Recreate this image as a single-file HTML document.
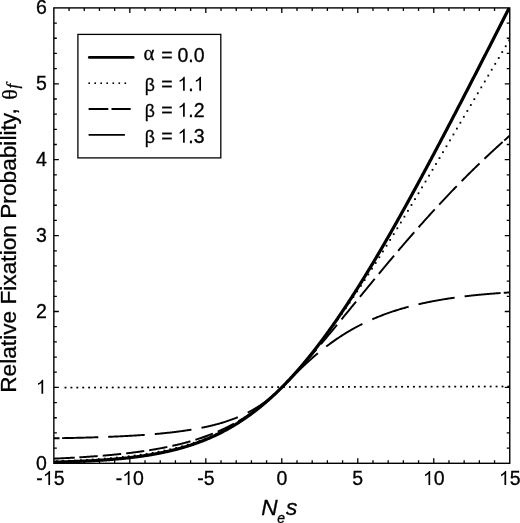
<!DOCTYPE html>
<html><head><meta charset="utf-8"><style>
html,body{margin:0;padding:0;background:#fff;}
body{width:520px;height:523px;position:relative;overflow:hidden;font-family:"Liberation Sans",sans-serif;}
svg{position:absolute;left:0;top:0;display:block;will-change:transform;}
text{-webkit-font-smoothing:antialiased;}
</style></head><body>
<svg width="520" height="523" viewBox="0 0 520 523">
<defs><clipPath id="c"><rect x="53.85" y="7.9" width="455.9" height="455.4"/></clipPath></defs>
<g clip-path="url(#c)" fill="none" stroke="#000">
<g fill="#000" stroke="none"><rect x="64.55" y="386.75" width="1.9" height="1.7"/><rect x="70.45" y="386.74" width="1.9" height="1.7"/><rect x="76.36" y="386.72" width="1.9" height="1.7"/><rect x="82.27" y="386.71" width="1.9" height="1.7"/><rect x="88.17" y="386.69" width="1.9" height="1.7"/><rect x="94.08" y="386.68" width="1.9" height="1.7"/><rect x="99.98" y="386.66" width="1.9" height="1.7"/><rect x="105.89" y="386.65" width="1.9" height="1.7"/><rect x="111.79" y="386.63" width="1.9" height="1.7"/><rect x="117.7" y="386.62" width="1.9" height="1.7"/><rect x="123.6" y="386.6" width="1.9" height="1.7"/><rect x="129.5" y="386.59" width="1.9" height="1.7"/><rect x="135.41" y="386.57" width="1.9" height="1.7"/><rect x="141.31" y="386.56" width="1.9" height="1.7"/><rect x="147.22" y="386.54" width="1.9" height="1.7"/><rect x="153.12" y="386.53" width="1.9" height="1.7"/><rect x="159.03" y="386.51" width="1.9" height="1.7"/><rect x="164.94" y="386.5" width="1.9" height="1.7"/><rect x="170.84" y="386.48" width="1.9" height="1.7"/><rect x="176.75" y="386.47" width="1.9" height="1.7"/><rect x="182.65" y="386.45" width="1.9" height="1.7"/><rect x="188.56" y="386.44" width="1.9" height="1.7"/><rect x="194.46" y="386.42" width="1.9" height="1.7"/><rect x="200.37" y="386.41" width="1.9" height="1.7"/><rect x="206.27" y="386.39" width="1.9" height="1.7"/><rect x="212.18" y="386.38" width="1.9" height="1.7"/><rect x="218.08" y="386.36" width="1.9" height="1.7"/><rect x="223.99" y="386.35" width="1.9" height="1.7"/><rect x="229.89" y="386.33" width="1.9" height="1.7"/><rect x="235.8" y="386.32" width="1.9" height="1.7"/><rect x="241.7" y="386.3" width="1.9" height="1.7"/><rect x="247.61" y="386.29" width="1.9" height="1.7"/><rect x="253.51" y="386.27" width="1.9" height="1.7"/><rect x="259.42" y="386.26" width="1.9" height="1.7"/><rect x="265.32" y="386.24" width="1.9" height="1.7"/><rect x="271.23" y="386.23" width="1.9" height="1.7"/><rect x="277.13" y="386.21" width="1.9" height="1.7"/><rect x="283.04" y="386.2" width="1.9" height="1.7"/><rect x="288.94" y="386.18" width="1.9" height="1.7"/><rect x="294.85" y="386.17" width="1.9" height="1.7"/><rect x="300.75" y="386.15" width="1.9" height="1.7"/><rect x="306.66" y="386.14" width="1.9" height="1.7"/><rect x="312.56" y="386.12" width="1.9" height="1.7"/><rect x="318.47" y="386.11" width="1.9" height="1.7"/><rect x="324.37" y="386.09" width="1.9" height="1.7"/><rect x="330.28" y="386.08" width="1.9" height="1.7"/><rect x="336.18" y="386.06" width="1.9" height="1.7"/><rect x="342.09" y="386.05" width="1.9" height="1.7"/><rect x="347.99" y="386.03" width="1.9" height="1.7"/><rect x="353.9" y="386.02" width="1.9" height="1.7"/><rect x="359.8" y="386" width="1.9" height="1.7"/><rect x="365.71" y="385.99" width="1.9" height="1.7"/><rect x="371.61" y="385.97" width="1.9" height="1.7"/><rect x="377.52" y="385.96" width="1.9" height="1.7"/><rect x="383.42" y="385.94" width="1.9" height="1.7"/><rect x="389.33" y="385.93" width="1.9" height="1.7"/><rect x="395.23" y="385.91" width="1.9" height="1.7"/><rect x="401.14" y="385.9" width="1.9" height="1.7"/><rect x="407.04" y="385.88" width="1.9" height="1.7"/><rect x="412.95" y="385.87" width="1.9" height="1.7"/><rect x="418.85" y="385.85" width="1.9" height="1.7"/><rect x="424.76" y="385.84" width="1.9" height="1.7"/><rect x="430.66" y="385.82" width="1.9" height="1.7"/><rect x="436.57" y="385.81" width="1.9" height="1.7"/><rect x="442.47" y="385.79" width="1.9" height="1.7"/><rect x="448.38" y="385.78" width="1.9" height="1.7"/><rect x="454.28" y="385.76" width="1.9" height="1.7"/><rect x="460.19" y="385.75" width="1.9" height="1.7"/><rect x="466.09" y="385.73" width="1.9" height="1.7"/><rect x="472" y="385.72" width="1.9" height="1.7"/><rect x="477.9" y="385.7" width="1.9" height="1.7"/><rect x="483.81" y="385.69" width="1.9" height="1.7"/><rect x="489.71" y="385.67" width="1.9" height="1.7"/><rect x="495.62" y="385.66" width="1.9" height="1.7"/><rect x="501.52" y="385.65" width="1.9" height="1.7"/><rect x="507.43" y="385.63" width="1.9" height="1.7"/></g>
<path d="M53.85,462.17 L54.36,462.16 L54.86,462.14 L55.37,462.13 L55.88,462.12 L56.39,462.1 L56.89,462.09 L57.4,462.08 L57.91,462.06 L58.41,462.05 L58.92,462.04 L59.43,462.02 L59.94,462.01 L60.44,461.99 L60.95,461.98 L61.46,461.96 L61.96,461.95 L62.47,461.93 L62.98,461.92 L63.49,461.9 L63.99,461.89 L64.5,461.87 L65.01,461.86 L65.51,461.84 L66.02,461.82 L66.53,461.81 L67.04,461.79 L67.54,461.77 L68.05,461.76 L68.56,461.74 L69.06,461.72 L69.57,461.7 L70.08,461.69 L70.58,461.67 L71.09,461.65 L71.6,461.63 L72.11,461.61 L72.61,461.6 L73.12,461.58 L73.63,461.56 L74.13,461.54 L74.64,461.52 L75.15,461.5 L75.66,461.48 L76.16,461.46 L76.67,461.44 L77.18,461.42 L77.68,461.4 L78.19,461.38 L78.7,461.36 L79.21,461.33 L79.71,461.31 L80.22,461.29 L80.73,461.27 L81.23,461.25 L81.74,461.22 L82.25,461.2 L82.76,461.18 L83.26,461.16 L83.77,461.13 L84.28,461.11 L84.78,461.09 L85.29,461.06 L85.8,461.04 L86.31,461.01 L86.81,460.99 L87.32,460.96 L87.83,460.94 L88.33,460.91 L88.84,460.88 L89.35,460.86 L89.86,460.83 L90.36,460.81 L90.87,460.78 L91.38,460.75 L91.88,460.72 L92.39,460.7 L92.9,460.67 L93.41,460.64 L93.91,460.61 L94.42,460.58 L94.93,460.55 L95.43,460.52 L95.94,460.49 L96.45,460.46 L96.96,460.43 L97.46,460.4 L97.97,460.37 L98.48,460.34 L98.98,460.31 L99.49,460.27 L100,460.24 L100.5,460.21 L101.01,460.18 L101.52,460.14 L102.03,460.11 L102.53,460.07 L103.04,460.04 L103.55,460 L104.05,459.97 L104.56,459.93 L105.07,459.9 L105.58,459.86 L106.08,459.82 L106.59,459.79 L107.1,459.75 L107.6,459.71 L108.11,459.67 L108.62,459.64 L109.13,459.6 L109.63,459.56 L110.14,459.52 L110.65,459.48 L111.15,459.44 L111.66,459.4 L112.17,459.36 L112.68,459.31 L113.18,459.27 L113.69,459.23 L114.2,459.19 L114.7,459.14 L115.21,459.1 L115.72,459.06 L116.23,459.01 L116.73,458.97 L117.24,458.92 L117.75,458.87 L118.25,458.83 L118.76,458.78 L119.27,458.73 L119.78,458.69 L120.28,458.64 L120.79,458.59 L121.3,458.54 L121.8,458.49 L122.31,458.44 L122.82,458.39 L123.33,458.34 L123.83,458.29 L124.34,458.23 L124.85,458.18 L125.35,458.13 L125.86,458.07 L126.37,458.02 L126.88,457.97 L127.38,457.91 L127.89,457.85 L128.4,457.8 L128.9,457.74 L129.41,457.68 L129.92,457.63 L130.42,457.57 L130.93,457.51 L131.44,457.45 L131.95,457.39 L132.45,457.33 L132.96,457.27 L133.47,457.2 L133.97,457.14 L134.48,457.08 L134.99,457.02 L135.5,456.95 L136,456.89 L136.51,456.82 L137.02,456.75 L137.52,456.69 L138.03,456.62 L138.54,456.55 L139.05,456.48 L139.55,456.41 L140.06,456.34 L140.57,456.27 L141.07,456.2 L141.58,456.13 L142.09,456.06 L142.6,455.99 L143.1,455.91 L143.61,455.84 L144.12,455.76 L144.62,455.69 L145.13,455.61 L145.64,455.53 L146.15,455.45 L146.65,455.37 L147.16,455.3 L147.67,455.21 L148.17,455.13 L148.68,455.05 L149.19,454.97 L149.7,454.89 L150.2,454.8 L150.71,454.72 L151.22,454.63 L151.72,454.55 L152.23,454.46 L152.74,454.37 L153.25,454.28 L153.75,454.19 L154.26,454.1 L154.77,454.01 L155.27,453.92 L155.78,453.83 L156.29,453.73 L156.8,453.64 L157.3,453.54 L157.81,453.45 L158.32,453.35 L158.82,453.25 L159.33,453.16 L159.84,453.06 L160.34,452.96 L160.85,452.85 L161.36,452.75 L161.87,452.65 L162.37,452.55 L162.88,452.44 L163.39,452.33 L163.89,452.23 L164.4,452.12 L164.91,452.01 L165.42,451.9 L165.92,451.79 L166.43,451.68 L166.94,451.57 L167.44,451.46 L167.95,451.34 L168.46,451.23 L168.97,451.11 L169.47,450.99 L169.98,450.87 L170.49,450.75 L170.99,450.63 L171.5,450.51 L172.01,450.39 L172.52,450.27 L173.02,450.14 L173.53,450.02 L174.04,449.89 L174.54,449.76 L175.05,449.63 L175.56,449.51 L176.07,449.37 L176.57,449.24 L177.08,449.11 L177.59,448.98 L178.09,448.84 L178.6,448.7 L179.11,448.57 L179.62,448.43 L180.12,448.29 L180.63,448.15 L181.14,448.01 L181.64,447.86 L182.15,447.72 L182.66,447.57 L183.17,447.43 L183.67,447.28 L184.18,447.13 L184.69,446.98 L185.19,446.83 L185.7,446.67 L186.21,446.52 L186.72,446.36 L187.22,446.21 L187.73,446.05 L188.24,445.89 L188.74,445.73 L189.25,445.57 L189.76,445.41 L190.27,445.24 L190.77,445.08 L191.28,444.91 L191.79,444.74 L192.29,444.57 L192.8,444.4 L193.31,444.23 L193.81,444.06 L194.32,443.88 L194.83,443.71 L195.34,443.53 L195.84,443.35 L196.35,443.17 L196.86,442.99 L197.36,442.8 L197.87,442.62 L198.38,442.43 L198.89,442.25 L199.39,442.06 L199.9,441.87 L200.41,441.68 L200.91,441.48 L201.42,441.29 L201.93,441.09 L202.44,440.9 L202.94,440.7 L203.45,440.5 L203.96,440.29 L204.46,440.09 L204.97,439.89 L205.48,439.68 L205.99,439.47 L206.49,439.26 L207,439.05 L207.51,438.84 L208.01,438.62 L208.52,438.41 L209.03,438.19 L209.54,437.97 L210.04,437.75 L210.55,437.53 L211.06,437.31 L211.56,437.08 L212.07,436.85 L212.58,436.63 L213.09,436.4 L213.59,436.16 L214.1,435.93 L214.61,435.69 L215.11,435.46 L215.62,435.22 L216.13,434.98 L216.64,434.74 L217.14,434.49 L217.65,434.25 L218.16,434 L218.66,433.75 L219.17,433.5 L219.68,433.25 L220.19,433 L220.69,432.74 L221.2,432.48 L221.71,432.23 L222.21,431.96 L222.72,431.7 L223.23,431.44 L223.73,431.17 L224.24,430.9 L224.75,430.63 L225.26,430.36 L225.76,430.09 L226.27,429.81 L226.78,429.54 L227.28,429.26 L227.79,428.98 L228.3,428.7 L228.81,428.41 L229.31,428.12 L229.82,427.84 L230.33,427.55 L230.83,427.25 L231.34,426.96 L231.85,426.67 L232.36,426.37 L232.86,426.07 L233.37,425.77 L233.88,425.46 L234.38,425.16 L234.89,424.85 L235.4,424.54 L235.91,424.23 L236.41,423.92 L236.92,423.6 L237.43,423.29 L237.93,422.97 L238.44,422.65 L238.95,422.32 L239.46,422 L239.96,421.67 L240.47,421.34 L240.98,421.01 L241.48,420.68 L241.99,420.34 L242.5,420.01 L243.01,419.67 L243.51,419.33 L244.02,418.98 L244.53,418.64 L245.03,418.29 L245.54,417.94 L246.05,417.59 L246.56,417.24 L247.06,416.88 L247.57,416.53 L248.08,416.17 L248.58,415.81 L249.09,415.44 L249.6,415.08 L250.11,414.71 L250.61,414.34 L251.12,413.97 L251.63,413.59 L252.13,413.22 L252.64,412.84 L253.15,412.46 L253.65,412.07 L254.16,411.69 L254.67,411.3 L255.18,410.91 L255.68,410.52 L256.19,410.13 L256.7,409.73 L257.2,409.34 L257.71,408.94 L258.22,408.53 L258.73,408.13 L259.23,407.72 L259.74,407.31 L260.25,406.9 L260.75,406.49 L261.26,406.08 L261.77,405.66 L262.28,405.24 L262.78,404.82 L263.29,404.39 L263.8,403.97 L264.3,403.54 L264.81,403.11 L265.32,402.68 L265.83,402.24 L266.33,401.8 L266.84,401.37 L267.35,400.92 L267.85,400.48 L268.36,400.03 L268.87,399.59 L269.38,399.14 L269.88,398.68 L270.39,398.23 L270.9,397.77 L271.4,397.31 L271.91,396.85 L272.42,396.39 L272.93,395.92 L273.43,395.45 L273.94,394.98 L274.45,394.51 L274.95,394.03 L275.46,393.56 L275.97,393.08 L276.48,392.59 L276.98,392.11 L277.49,391.62 L278,391.14 L278.5,390.65 L279.01,390.15 L279.52,389.66 L280.03,389.16 L280.53,388.66 L281.04,388.16 L281.55,387.65 L282.05,387.15 L282.56,386.64 L283.07,386.13 L283.57,385.61 L284.08,385.1 L284.59,384.58 L285.1,384.06 L285.6,383.54 L286.11,383.01 L286.62,382.49 L287.12,381.96 L287.63,381.43 L288.14,380.89 L288.65,380.36 L289.15,379.82 L289.66,379.28 L290.17,378.74 L290.67,378.19 L291.18,377.64 L291.69,377.09 L292.2,376.54 L292.7,375.99 L293.21,375.43 L293.72,374.87 L294.22,374.31 L294.73,373.75 L295.24,373.19 L295.75,372.62 L296.25,372.05 L296.76,371.48 L297.27,370.9 L297.77,370.33 L298.28,369.75 L298.79,369.17 L299.3,368.59 L299.8,368 L300.31,367.41 L300.82,366.83 L301.32,366.23 L301.83,365.64 L302.34,365.04 L302.85,364.45 L303.35,363.85 L303.86,363.24 L304.37,362.64 L304.87,362.03 L305.38,361.42 L305.89,360.81 L306.4,360.2 L306.9,359.58 L307.41,358.97 L307.92,358.35 L308.42,357.72 L308.93,357.1 L309.44,356.47 L309.95,355.85 L310.45,355.22 L310.96,354.58 L311.47,353.95 L311.97,353.31 L312.48,352.67 L312.99,352.03 L313.49,351.39 L314,350.74 L314.51,350.1 L315.02,349.45 L315.52,348.79 L316.03,348.14 L316.54,347.48 L317.04,346.83 L317.55,346.17 L318.06,345.51 L318.57,344.84 L319.07,344.18 L319.58,343.51 L320.09,342.84 L320.59,342.16 L321.1,341.49 L321.61,340.81 L322.12,340.14 L322.62,339.46 L323.13,338.77 L323.64,338.09 L324.14,337.4 L324.65,336.71 L325.16,336.02 L325.67,335.33 L326.17,334.64 L326.68,333.94 L327.19,333.24 L327.69,332.54 L328.2,331.84 L328.71,331.14 L329.22,330.43 L329.72,329.72 L330.23,329.01 L330.74,328.3 L331.24,327.59 L331.75,326.87 L332.26,326.15 L332.77,325.44 L333.27,324.71 L333.78,323.99 L334.29,323.27 L334.79,322.54 L335.3,321.81 L335.81,321.08 L336.32,320.35 L336.82,319.61 L337.33,318.88 L337.84,318.14 L338.34,317.4 L338.85,316.66 L339.36,315.91 L339.87,315.17 L340.37,314.42 L340.88,313.67 L341.39,312.92 L341.89,312.17 L342.4,311.42 L342.91,310.66 L343.41,309.9 L343.92,309.14 L344.43,308.38 L344.94,307.62 L345.44,306.86 L345.95,306.09 L346.46,305.32 L346.96,304.55 L347.47,303.78 L347.98,303.01 L348.49,302.23 L348.99,301.46 L349.5,300.68 L350.01,299.9 L350.51,299.12 L351.02,298.33 L351.53,297.55 L352.04,296.76 L352.54,295.97 L353.05,295.19 L353.56,294.39 L354.06,293.6 L354.57,292.81 L355.08,292.01 L355.59,291.21 L356.09,290.42 L356.6,289.61 L357.11,288.81 L357.61,288.01 L358.12,287.2 L358.63,286.4 L359.14,285.59 L359.64,284.78 L360.15,283.97 L360.66,283.16 L361.16,282.34 L361.67,281.53 L362.18,280.71 L362.69,279.89 L363.19,279.07 L363.7,278.25 L364.21,277.42 L364.71,276.6 L365.22,275.77 L365.73,274.95 L366.24,274.12 L366.74,273.29 L367.25,272.46 L367.76,271.62 L368.26,270.79 L368.77,269.95 L369.28,269.12 L369.79,268.28 L370.29,267.44 L370.8,266.6 L371.31,265.76 L371.81,264.91 L372.32,264.07 L372.83,263.22 L373.33,262.37 L373.84,261.52 L374.35,260.67 L374.86,259.82 L375.36,258.97 L375.87,258.11 L376.38,257.26 L376.88,256.4 L377.39,255.55 L377.9,254.69 L378.41,253.83 L378.91,252.96 L379.42,252.1 L379.93,251.24 L380.43,250.37 L380.94,249.51 L381.45,248.64 L381.96,247.77 L382.46,246.9 L382.97,246.03 L383.48,245.16 L383.98,244.28 L384.49,243.41 L385,242.53 L385.51,241.66 L386.01,240.78 L386.52,239.9 L387.03,239.02 L387.53,238.14 L388.04,237.26 L388.55,236.37 L389.06,235.49 L389.56,234.6 L390.07,233.72 L390.58,232.83 L391.08,231.94 L391.59,231.05 L392.1,230.16 L392.61,229.27 L393.11,228.37 L393.62,227.48 L394.13,226.58 L394.63,225.69 L395.14,224.79 L395.65,223.89 L396.16,223 L396.66,222.1 L397.17,221.19 L397.68,220.29 L398.18,219.39 L398.69,218.49 L399.2,217.58 L399.71,216.68 L400.21,215.77 L400.72,214.86 L401.23,213.95 L401.73,213.04 L402.24,212.13 L402.75,211.22 L403.26,210.31 L403.76,209.4 L404.27,208.49 L404.78,207.57 L405.28,206.66 L405.79,205.74 L406.3,204.82 L406.8,203.9 L407.31,202.99 L407.82,202.07 L408.33,201.15 L408.83,200.22 L409.34,199.3 L409.85,198.38 L410.35,197.46 L410.86,196.53 L411.37,195.61 L411.88,194.68 L412.38,193.75 L412.89,192.82 L413.4,191.9 L413.9,190.97 L414.41,190.04 L414.92,189.11 L415.43,188.18 L415.93,187.24 L416.44,186.31 L416.95,185.38 L417.45,184.44 L417.96,183.51 L418.47,182.57 L418.98,181.64 L419.48,180.7 L419.99,179.76 L420.5,178.82 L421,177.88 L421.51,176.94 L422.02,176 L422.53,175.06 L423.03,174.12 L423.54,173.18 L424.05,172.23 L424.55,171.29 L425.06,170.34 L425.57,169.4 L426.08,168.45 L426.58,167.51 L427.09,166.56 L427.6,165.61 L428.1,164.66 L428.61,163.72 L429.12,162.77 L429.63,161.82 L430.13,160.87 L430.64,159.91 L431.15,158.96 L431.65,158.01 L432.16,157.06 L432.67,156.1 L433.18,155.15 L433.68,154.19 L434.19,153.24 L434.7,152.28 L435.2,151.33 L435.71,150.37 L436.22,149.41 L436.72,148.46 L437.23,147.5 L437.74,146.54 L438.25,145.58 L438.75,144.62 L439.26,143.66 L439.77,142.7 L440.27,141.74 L440.78,140.77 L441.29,139.81 L441.8,138.85 L442.3,137.88 L442.81,136.92 L443.32,135.96 L443.82,134.99 L444.33,134.03 L444.84,133.06 L445.35,132.09 L445.85,131.13 L446.36,130.16 L446.87,129.19 L447.37,128.22 L447.88,127.26 L448.39,126.29 L448.9,125.32 L449.4,124.35 L449.91,123.38 L450.42,122.41 L450.92,121.44 L451.43,120.47 L451.94,119.49 L452.45,118.52 L452.95,117.55 L453.46,116.58 L453.97,115.6 L454.47,114.63 L454.98,113.65 L455.49,112.68 L456,111.7 L456.5,110.73 L457.01,109.75 L457.52,108.78 L458.02,107.8 L458.53,106.82 L459.04,105.85 L459.55,104.87 L460.05,103.89 L460.56,102.91 L461.07,101.93 L461.57,100.95 L462.08,99.98 L462.59,99 L463.1,98.02 L463.6,97.04 L464.11,96.05 L464.62,95.07 L465.12,94.09 L465.63,93.11 L466.14,92.13 L466.64,91.15 L467.15,90.16 L467.66,89.18 L468.17,88.2 L468.67,87.21 L469.18,86.23 L469.69,85.25 L470.19,84.26 L470.7,83.28 L471.21,82.29 L471.72,81.31 L472.22,80.32 L472.73,79.34 L473.24,78.35 L473.74,77.36 L474.25,76.38 L474.76,75.39 L475.27,74.4 L475.77,73.42 L476.28,72.43 L476.79,71.44 L477.29,70.45 L477.8,69.46 L478.31,68.47 L478.82,67.49 L479.32,66.5 L479.83,65.51 L480.34,64.52 L480.84,63.53 L481.35,62.54 L481.86,61.55 L482.37,60.56 L482.87,59.57 L483.38,58.57 L483.89,57.58 L484.39,56.59 L484.9,55.6 L485.41,54.61 L485.92,53.62 L486.42,52.62 L486.93,51.63 L487.44,50.64 L487.94,49.64 L488.45,48.65 L488.96,47.66 L489.47,46.66 L489.97,45.67 L490.48,44.68 L490.99,43.68 L491.49,42.69 L492,41.69 L492.51,40.7 L493.02,39.7 L493.52,38.71 L494.03,37.71 L494.54,36.72 L495.04,35.72 L495.55,34.72 L496.06,33.73 L496.56,32.73 L497.07,31.73 L497.58,30.74 L498.09,29.74 L498.59,28.74 L499.1,27.75 L499.61,26.75 L500.11,25.75 L500.62,24.75 L501.13,23.76 L501.64,22.76 L502.14,21.76 L502.65,20.76 L503.16,19.76 L503.66,18.76 L504.17,17.77 L504.68,16.77 L505.19,15.77 L505.69,14.77 L506.2,13.77 L506.71,12.77 L507.21,11.77 L507.72,10.77 L508.23,9.77 L508.74,8.77 L509.24,7.77 L509.75,6.77" stroke-width="3.2" stroke-linejoin="round"/>
<path d="M53.85,458.65 L54.57,458.62 L55.29,458.59 L56.02,458.56 L56.74,458.52 L57.46,458.49 L58.18,458.46 L58.91,458.42 L59.63,458.39 L60.35,458.35 L61.07,458.32 L61.8,458.28 L62.52,458.25 L63.24,458.21 L63.96,458.18 L64.69,458.14 L65.41,458.1 L66.13,458.07 L66.85,458.03 L67.58,457.99 L68.3,457.96 L69.02,457.92 L69.74,457.88 L70.47,457.84 L71.19,457.8 L71.91,457.76 L72.63,457.72 L73.36,457.68 L74.08,457.64 L74.8,457.6 M79.4,457.33 L80.1,457.28 L80.81,457.24 L81.51,457.2 L82.21,457.15 L82.92,457.11 L83.62,457.06 L84.32,457.02 L85.03,456.97 L85.73,456.92 L86.43,456.88 L87.14,456.83 L87.84,456.78 L88.55,456.73 L89.25,456.69 L89.95,456.64 L90.66,456.59 L91.36,456.54 L92.06,456.49 L92.77,456.44 L93.47,456.38 L94.17,456.33 L94.88,456.28 L95.58,456.23 L96.28,456.17 L96.99,456.12 L97.69,456.07 M102.7,455.67 L103.41,455.61 L104.12,455.55 L104.83,455.49 L105.54,455.43 L106.25,455.36 L106.96,455.3 L107.67,455.24 L108.38,455.18 L109.09,455.11 L109.8,455.05 L110.5,454.98 L111.21,454.92 L111.92,454.85 L112.63,454.78 L113.34,454.72 L114.05,454.65 L114.76,454.58 L115.47,454.51 L116.18,454.44 L116.89,454.37 L117.6,454.3 L118.31,454.22 L119.02,454.15 L119.73,454.08 L120.44,454 L121.15,453.93 M126.2,453.37 L126.92,453.28 L127.64,453.2 L128.37,453.12 L129.09,453.03 L129.81,452.94 L130.53,452.86 L131.26,452.77 L131.98,452.68 L132.7,452.59 L133.42,452.5 L134.14,452.4 L134.87,452.31 L135.59,452.22 L136.31,452.12 L137.03,452.03 L137.76,451.93 L138.48,451.83 L139.2,451.73 L139.92,451.63 L140.64,451.53 L141.37,451.43 L142.09,451.33 L142.81,451.22 L143.53,451.12 L144.25,451.01 M149.2,450.25 L149.93,450.14 L150.65,450.02 L151.38,449.9 L152.1,449.78 L152.83,449.66 L153.55,449.54 L154.28,449.42 L155,449.29 L155.73,449.17 L156.45,449.04 L157.18,448.91 L157.9,448.78 L158.63,448.65 L159.35,448.52 L160.08,448.38 L160.81,448.25 L161.53,448.11 L162.26,447.97 L162.98,447.83 L163.71,447.69 L164.43,447.55 L165.16,447.4 L165.88,447.26 L166.61,447.11 L167.33,446.96 M172.3,445.9 L173.03,445.74 L173.75,445.57 L174.48,445.41 L175.2,445.24 L175.93,445.07 L176.65,444.9 L177.38,444.73 L178.1,444.55 L178.83,444.38 L179.55,444.2 L180.28,444.02 L181,443.84 L181.73,443.65 L182.45,443.47 L183.18,443.28 L183.91,443.09 L184.63,442.9 L185.36,442.7 L186.08,442.51 L186.81,442.31 L187.53,442.11 L188.26,441.9 L188.98,441.7 L189.71,441.49 L190.43,441.28 M195.4,439.79 L196.1,439.57 L196.8,439.35 L197.5,439.13 L198.2,438.9 L198.9,438.67 L199.6,438.44 L200.3,438.21 L201,437.97 L201.7,437.73 L202.4,437.49 L203.1,437.25 L203.8,437.01 L204.5,436.76 L205.2,436.51 L205.9,436.25 L206.6,436 L207.3,435.74 L208,435.48 L208.7,435.21 L209.4,434.95 L210.1,434.68 L210.8,434.41 L211.51,434.13 L212.21,433.85 L212.91,433.57 M217.7,431.58 L218.4,431.27 L219.11,430.96 L219.81,430.65 L220.52,430.34 L221.22,430.02 L221.93,429.7 L222.63,429.37 L223.33,429.05 L224.04,428.71 L224.74,428.38 L225.45,428.04 L226.15,427.7 L226.85,427.36 L227.56,427.01 L228.26,426.66 L228.97,426.3 L229.67,425.94 L230.38,425.58 L231.08,425.22 L231.78,424.85 L232.49,424.47 L233.19,424.1 L233.9,423.72 M238.33,421.23 L239.04,420.82 L239.74,420.41 L240.45,419.99 L241.15,419.57 L241.85,419.15 L242.56,418.72 L243.26,418.28 L243.97,417.85 L244.67,417.4 L245.38,416.96 L246.08,416.51 L246.78,416.05 L247.49,415.59 L248.19,415.13 L248.9,414.66 L249.6,414.19 L250.31,413.71 L251.01,413.23 L251.71,412.75 L252.42,412.26 L253.12,411.76 L253.83,411.26 L254.53,410.76 M258.97,407.47 L259.67,406.93 L260.38,406.39 L261.08,405.84 L261.78,405.29 L262.49,404.73 L263.19,404.17 L263.9,403.6 L264.6,403.02 L265.3,402.45 L266.01,401.86 L266.71,401.27 L267.42,400.68 L268.12,400.08 L268.83,399.47 L269.53,398.86 L270.23,398.25 L270.94,397.63 L271.64,397 L272.35,396.37 L273.05,395.74 L273.76,395.1 L274.46,394.45 L275.16,393.8 M279.6,389.57 L280.3,388.88 L281.01,388.19 L281.71,387.49 L282.42,386.78 L283.12,386.07 L283.83,385.36 L284.53,384.65 L285.23,383.93 L285.94,383.21 L286.64,382.48 L287.35,381.75 L288.05,381.02 L288.75,380.29 L289.46,379.55 L290.16,378.81 L290.87,378.07 L291.57,377.32 L292.28,376.57 L292.98,375.82 L293.68,375.06 L294.39,374.31 L295.09,373.55 L295.8,372.78 M300.23,367.92 L300.94,367.14 L301.64,366.36 L302.35,365.57 L303.05,364.79 L303.75,364 L304.46,363.21 L305.16,362.41 L305.87,361.62 L306.57,360.82 L307.28,360.02 L307.98,359.22 L308.68,358.41 L309.39,357.61 L310.09,356.8 L310.8,355.99 L311.5,355.18 L312.21,354.37 L312.91,353.55 L313.61,352.73 L314.32,351.92 L315.02,351.1 L315.73,350.27 L316.43,349.45 M320.87,344.23 L321.57,343.4 L322.28,342.57 L322.98,341.73 L323.68,340.89 L324.39,340.05 L325.09,339.21 L325.8,338.37 L326.5,337.53 L327.2,336.69 L327.91,335.85 L328.61,335 L329.32,334.16 L330.02,333.31 L330.73,332.46 L331.43,331.61 L332.13,330.76 L332.84,329.91 L333.54,329.06 L334.25,328.21 L334.95,327.36 L335.66,326.5 L336.36,325.65 L337.06,324.8 M341.5,319.4 L342.23,318.51 L342.95,317.63 L343.68,316.74 L344.4,315.86 L345.13,314.97 L345.86,314.08 L346.58,313.2 L347.31,312.31 L348.04,311.42 L348.76,310.53 L349.49,309.64 L350.21,308.76 L350.94,307.87 L351.67,306.98 L352.39,306.09 L353.12,305.2 L353.84,304.31 L354.57,303.42 L355.3,302.53 L356.02,301.64 M360,296.78 L360.7,295.92 L361.41,295.06 L362.11,294.2 L362.81,293.34 L363.51,292.48 L364.22,291.62 L364.92,290.77 L365.62,289.91 L366.32,289.05 L367.03,288.19 L367.73,287.34 L368.43,286.48 L369.14,285.62 L369.84,284.77 L370.54,283.91 L371.24,283.06 L371.95,282.21 L372.65,281.35 L373.35,280.5 L374.06,279.65 L374.76,278.79 M378.8,273.91 L379.53,273.03 L380.25,272.16 L380.98,271.28 L381.7,270.41 L382.43,269.54 L383.15,268.67 L383.88,267.8 L384.6,266.93 L385.33,266.06 L386.05,265.19 L386.78,264.32 L387.5,263.46 L388.23,262.59 L388.95,261.72 L389.68,260.86 L390.4,260 L391.13,259.14 L391.85,258.28 L392.58,257.42 L393.3,256.56 L394.03,255.7 M398.2,250.78 L398.93,249.93 L399.66,249.07 L400.38,248.22 L401.11,247.37 L401.84,246.52 L402.57,245.67 L403.3,244.82 L404.02,243.98 L404.75,243.13 L405.48,242.29 L406.21,241.44 L406.93,240.6 L407.66,239.76 L408.39,238.92 L409.12,238.08 L409.85,237.25 L410.57,236.41 L411.3,235.58 L412.03,234.74 L412.76,233.91 L413.49,233.08 L414.21,232.25 M418.6,227.27 L419.3,226.48 L420.01,225.69 L420.71,224.9 L421.41,224.11 L422.12,223.32 L422.82,222.54 L423.52,221.75 L424.22,220.97 L424.93,220.18 L425.63,219.4 L426.33,218.62 L427.04,217.84 L427.74,217.06 L428.44,216.29 L429.15,215.51 L429.85,214.74 L430.55,213.96 L431.26,213.19 L431.96,212.42 L432.66,211.65 L433.36,210.89 L434.07,210.12 L434.77,209.35 M439.2,204.57 L439.9,203.81 L440.61,203.06 L441.31,202.3 L442.01,201.55 L442.72,200.8 L443.42,200.05 L444.12,199.31 L444.83,198.56 L445.53,197.82 L446.23,197.07 L446.94,196.33 L447.64,195.59 L448.34,194.85 L449.05,194.11 L449.75,193.38 L450.45,192.64 L451.16,191.91 L451.86,191.17 L452.56,190.44 L453.27,189.71 L453.97,188.99 L454.67,188.26 L455.38,187.53 L456.08,186.81 L456.78,186.09 M461.6,181.17 L462.32,180.45 L463.03,179.73 L463.75,179.01 L464.46,178.29 L465.18,177.57 L465.9,176.85 L466.61,176.13 L467.33,175.42 L468.04,174.71 L468.76,173.99 L469.48,173.28 L470.19,172.58 L470.91,171.87 L471.62,171.16 L472.34,170.46 L473.05,169.76 L473.77,169.06 L474.49,168.36 L475.2,167.66 L475.92,166.96 L476.63,166.26 L477.35,165.57 L478.07,164.88 L478.78,164.19 L479.5,163.5 M484.4,158.81 L485.1,158.15 L485.8,157.49 L486.5,156.83 L487.2,156.17 L487.9,155.51 L488.6,154.85 L489.3,154.2 L490,153.54 L490.7,152.89 L491.4,152.24 L492.1,151.59 L492.8,150.94 L493.5,150.29 L494.2,149.65 L494.9,149.01 L495.6,148.36 L496.3,147.72 L497,147.08 L497.7,146.44 L498.4,145.8 L499.1,145.17 L499.8,144.53 L500.5,143.9 L501.2,143.27 L501.9,142.64 L502.6,142.01 M504.2,140.57 L504.99,139.87 L505.79,139.16 L506.58,138.46 L507.37,137.75 L508.16,137.05 L508.96,136.35 L509.75,135.66" stroke-width="1.95"/>
<path d="M53.85,438.29 L54.56,438.28 L55.26,438.27 L55.97,438.25 L56.67,438.24 L57.38,438.23 L58.09,438.22 L58.79,438.21 L59.5,438.19 M62.1,438.15 L62.81,438.13 L63.52,438.12 L64.23,438.11 L64.94,438.09 L65.65,438.08 L66.36,438.06 L67.07,438.05 L67.78,438.04 L68.49,438.02 L69.2,438.01 L69.91,437.99 L70.61,437.98 L71.32,437.96 L72.03,437.95 L72.74,437.93 L73.45,437.91 L74.16,437.9 L74.87,437.88 L75.58,437.87 L76.29,437.85 L77,437.83 L77.71,437.81 L78.42,437.8 L79.13,437.78 L79.84,437.76 L80.55,437.74 L81.26,437.73 L81.97,437.71 L82.68,437.69 L83.39,437.67 L84.1,437.65 L84.81,437.63 L85.52,437.61 L86.23,437.59 L86.94,437.57 L87.64,437.55 L88.35,437.53 L89.06,437.51 L89.77,437.49 L90.48,437.47 L91.19,437.45 L91.9,437.43 L92.61,437.4 L93.32,437.38 L94.03,437.36 L94.74,437.34 L95.45,437.31 L96.16,437.29 L96.87,437.27 L97.58,437.24 L98.29,437.22 M108.2,436.85 L108.9,436.82 L109.61,436.8 L110.31,436.77 L111.01,436.74 L111.72,436.71 L112.42,436.68 L113.12,436.65 L113.83,436.62 L114.53,436.59 L115.23,436.55 L115.94,436.52 L116.64,436.49 L117.35,436.46 L118.05,436.43 L118.75,436.39 L119.46,436.36 L120.16,436.32 L120.86,436.29 L121.57,436.25 L122.27,436.22 L122.97,436.18 L123.68,436.15 L124.38,436.11 L125.08,436.07 L125.79,436.04 L126.49,436 L127.19,435.96 L127.9,435.92 L128.6,435.88 L129.3,435.84 L130.01,435.8 L130.71,435.76 L131.41,435.72 L132.12,435.68 L132.82,435.64 L133.53,435.6 L134.23,435.55 L134.93,435.51 L135.64,435.47 L136.34,435.42 L137.04,435.38 L137.75,435.33 L138.45,435.29 L139.15,435.24 L139.86,435.19 L140.56,435.15 L141.26,435.1 L141.97,435.05 L142.67,435 L143.37,434.95 L144.08,434.9 L144.78,434.85 M154.8,434.05 L155.5,433.99 L156.21,433.93 L156.91,433.87 L157.62,433.8 L158.32,433.74 L159.03,433.67 L159.73,433.61 L160.44,433.54 L161.14,433.47 L161.85,433.41 L162.55,433.34 L163.26,433.27 L163.96,433.2 L164.67,433.12 L165.37,433.05 L166.08,432.98 L166.78,432.9 L167.49,432.83 L168.19,432.75 L168.9,432.68 L169.6,432.6 L170.31,432.52 L171.01,432.44 L171.72,432.36 L172.42,432.28 L173.13,432.19 L173.83,432.11 L174.54,432.02 L175.24,431.94 L175.95,431.85 L176.65,431.76 L177.36,431.67 L178.06,431.58 L178.77,431.49 L179.47,431.4 L180.18,431.3 L180.88,431.21 L181.59,431.11 L182.29,431.01 L183,430.91 L183.7,430.81 L184.41,430.71 L185.11,430.61 L185.82,430.51 L186.52,430.4 L187.23,430.29 L187.93,430.18 L188.64,430.08 L189.34,429.96 L190.05,429.85 L190.75,429.74 L191.46,429.62 M201.5,427.8 L202.21,427.66 L202.92,427.51 L203.63,427.36 L204.34,427.22 L205.06,427.07 L205.77,426.91 L206.48,426.76 L207.19,426.6 L207.9,426.44 L208.61,426.28 L209.32,426.12 L210.03,425.95 L210.74,425.78 L211.46,425.61 L212.17,425.44 L212.88,425.26 L213.59,425.08 L214.3,424.9 L215.01,424.72 L215.72,424.54 L216.43,424.35 L217.14,424.16 L217.86,423.96 L218.57,423.77 L219.28,423.57 L219.99,423.36 L220.7,423.16 L221.41,422.95 L222.12,422.74 L222.83,422.52 L223.54,422.31 L224.26,422.09 L224.97,421.86 L225.68,421.64 L226.39,421.41 L227.1,421.17 L227.81,420.93 L228.52,420.69 L229.23,420.45 L229.94,420.2 L230.66,419.95 L231.37,419.7 L232.08,419.44 L232.79,419.17 L233.5,418.91 L234.21,418.64 L234.92,418.36 L235.63,418.08 L236.34,417.8 L237.06,417.51 L237.77,417.22 M247.7,412.65 L248.4,412.29 L249.1,411.92 L249.8,411.55 L250.5,411.18 L251.21,410.79 L251.91,410.4 L252.61,410.01 L253.31,409.61 L254.01,409.2 L254.71,408.79 L255.41,408.37 L256.11,407.95 L256.81,407.52 L257.52,407.08 L258.22,406.64 L258.92,406.19 L259.62,405.73 L260.32,405.26 L261.02,404.79 L261.72,404.32 L262.42,403.83 L263.13,403.34 L263.83,402.84 L264.53,402.33 L265.23,401.82 L265.93,401.3 L266.63,400.77 L267.33,400.23 L268.03,399.69 L268.73,399.14 L269.44,398.58 L270.14,398.01 L270.84,397.43 L271.54,396.85 L272.24,396.26 L272.94,395.66 L273.64,395.05 L274.34,394.44 L275.04,393.81 L275.75,393.18 L276.45,392.54 L277.15,391.89 L277.85,391.24 L278.55,390.57 M287,382.17 L287.72,381.45 L288.43,380.73 L289.15,380.01 L289.86,379.29 L290.58,378.58 L291.29,377.86 L292.01,377.15 L292.73,376.43 L293.44,375.72 L294.16,375.01 L294.87,374.31 L295.59,373.6 L296.3,372.9 L297.02,372.2 L297.73,371.5 L298.45,370.81 L299.17,370.12 L299.88,369.43 L300.6,368.74 L301.31,368.06 L302.03,367.38 L302.74,366.7 L303.46,366.03 L304.18,365.36 L304.89,364.69 L305.61,364.03 L306.32,363.37 L307.04,362.71 L307.75,362.06 L308.47,361.41 L309.18,360.77 L309.9,360.12 L310.62,359.49 L311.33,358.85 L312.05,358.22 L312.76,357.6 L313.48,356.97 L314.19,356.35 L314.91,355.74 L315.63,355.13 L316.34,354.52 L317.06,353.92 L317.77,353.32 M326.2,346.58 L326.91,346.04 L327.62,345.51 L328.33,344.97 L329.04,344.44 L329.75,343.92 L330.46,343.4 L331.17,342.88 L331.88,342.37 L332.59,341.86 L333.3,341.36 L334.01,340.85 L334.71,340.36 L335.42,339.87 L336.13,339.38 L336.84,338.89 L337.55,338.41 L338.26,337.94 L338.97,337.46 L339.68,336.99 L340.39,336.53 L341.1,336.07 L341.81,335.61 L342.52,335.16 L343.23,334.71 L343.94,334.26 L344.65,333.82 L345.36,333.38 L346.07,332.95 L346.78,332.52 L347.49,332.09 L348.2,331.67 L348.91,331.25 L349.62,330.83 L350.33,330.42 L351.04,330.01 L351.74,329.6 L352.45,329.2 L353.16,328.8 L353.87,328.41 L354.58,328.02 L355.29,327.63 L356,327.25 L356.71,326.87 L357.42,326.49 L358.13,326.12 L358.84,325.74 L359.55,325.38 L360.26,325.01 L360.97,324.65 L361.68,324.3 L362.39,323.94 M372.3,319.32 L373.01,319.01 L373.72,318.7 L374.43,318.4 L375.14,318.1 L375.86,317.8 L376.57,317.51 L377.28,317.21 L377.99,316.92 L378.7,316.64 L379.41,316.35 L380.12,316.07 L380.83,315.79 L381.54,315.52 L382.26,315.24 L382.97,314.97 L383.68,314.7 L384.39,314.44 L385.1,314.17 L385.81,313.91 L386.52,313.66 L387.23,313.4 L387.94,313.15 L388.66,312.9 L389.37,312.65 L390.08,312.4 L390.79,312.16 L391.5,311.91 L392.21,311.67 L392.92,311.44 L393.63,311.2 L394.34,310.97 L395.06,310.74 L395.77,310.51 L396.48,310.29 L397.19,310.06 L397.9,309.84 L398.61,309.62 L399.32,309.4 L400.03,309.19 L400.74,308.98 L401.46,308.76 L402.17,308.56 L402.88,308.35 L403.59,308.14 L404.3,307.94 L405.01,307.74 L405.72,307.54 L406.43,307.34 L407.14,307.15 L407.86,306.95 L408.57,306.76 M418.5,304.27 L419.21,304.11 L419.92,303.95 L420.63,303.78 L421.34,303.62 L422.05,303.47 L422.76,303.31 L423.47,303.15 L424.18,303 L424.89,302.85 L425.6,302.7 L426.31,302.55 L427.01,302.4 L427.72,302.25 L428.43,302.11 L429.14,301.96 L429.85,301.82 L430.56,301.68 L431.27,301.54 L431.98,301.4 L432.69,301.27 L433.4,301.13 L434.11,301 L434.82,300.86 L435.53,300.73 L436.24,300.6 L436.95,300.47 L437.66,300.35 L438.37,300.22 L439.08,300.1 L439.79,299.97 L440.5,299.85 L441.21,299.73 L441.92,299.61 L442.63,299.49 L443.34,299.37 L444.04,299.26 L444.75,299.14 L445.46,299.03 L446.17,298.92 L446.88,298.8 L447.59,298.69 L448.3,298.59 L449.01,298.48 L449.72,298.37 L450.43,298.26 L451.14,298.16 L451.85,298.06 L452.56,297.95 L453.27,297.85 L453.98,297.75 L454.69,297.65 M464.6,296.36 L465.31,296.28 L466.01,296.19 L466.72,296.11 L467.42,296.03 L468.13,295.95 L468.84,295.87 L469.54,295.79 L470.25,295.71 L470.95,295.63 L471.66,295.56 L472.36,295.48 L473.07,295.4 L473.78,295.33 L474.48,295.26 L475.19,295.18 L475.89,295.11 L476.6,295.04 L477.31,294.97 L478.01,294.9 L478.72,294.83 L479.42,294.76 L480.13,294.69 L480.84,294.63 L481.54,294.56 L482.25,294.5 L482.95,294.43 L483.66,294.37 L484.36,294.3 L485.07,294.24 L485.78,294.18 L486.48,294.12 L487.19,294.06 L487.89,294 L488.6,293.94 L489.31,293.88 L490.01,293.82 L490.72,293.76 L491.42,293.71 L492.13,293.65 L492.84,293.6 L493.54,293.54 L494.25,293.49 L494.95,293.44 L495.66,293.38 L496.36,293.33 L497.07,293.28 L497.78,293.23 L498.48,293.18 L499.19,293.13 L499.89,293.08 L500.6,293.03 M503.75,292.82 L504.5,292.77 L505.25,292.72 L506,292.68 L506.75,292.63 L507.5,292.58 L508.25,292.54 L509,292.49 L509.75,292.45" stroke-width="1.95"/>
</g>
<g fill="#000" clip-path="url(#c)"><rect x="55.96" y="460.31" width="1.8" height="1.8"/><rect x="61.95" y="460.09" width="1.8" height="1.8"/><rect x="67.95" y="459.85" width="1.8" height="1.8"/><rect x="73.95" y="459.58" width="1.8" height="1.8"/><rect x="79.94" y="459.28" width="1.8" height="1.8"/><rect x="85.94" y="458.95" width="1.8" height="1.8"/><rect x="91.93" y="458.58" width="1.8" height="1.8"/><rect x="97.93" y="458.17" width="1.8" height="1.8"/><rect x="103.9" y="457.72" width="1.8" height="1.8"/><rect x="109.89" y="457.23" width="1.8" height="1.8"/><rect x="115.87" y="456.68" width="1.8" height="1.8"/><rect x="121.86" y="456.07" width="1.8" height="1.8"/><rect x="127.84" y="455.4" width="1.8" height="1.8"/><rect x="133.81" y="454.66" width="1.8" height="1.8"/><rect x="139.76" y="453.84" width="1.8" height="1.8"/><rect x="145.71" y="452.95" width="1.8" height="1.8"/><rect x="151.66" y="451.96" width="1.8" height="1.8"/><rect x="157.58" y="450.87" width="1.8" height="1.8"/><rect x="163.51" y="449.68" width="1.8" height="1.8"/><rect x="169.42" y="448.38" width="1.8" height="1.8"/><rect x="175.3" y="446.95" width="1.8" height="1.8"/><rect x="181.16" y="445.39" width="1.8" height="1.8"/><rect x="186.99" y="443.7" width="1.8" height="1.8"/><rect x="192.78" y="441.87" width="1.8" height="1.8"/><rect x="198.55" y="439.87" width="1.8" height="1.8"/><rect x="204.29" y="437.72" width="1.8" height="1.8"/><rect x="209.97" y="435.4" width="1.8" height="1.8"/><rect x="215.6" y="432.91" width="1.8" height="1.8"/><rect x="221.19" y="430.25" width="1.8" height="1.8"/><rect x="226.7" y="427.41" width="1.8" height="1.8"/><rect x="232.15" y="424.39" width="1.8" height="1.8"/><rect x="237.53" y="421.19" width="1.8" height="1.8"/><rect x="242.84" y="417.82" width="1.8" height="1.8"/><rect x="248.06" y="414.28" width="1.8" height="1.8"/><rect x="253.21" y="410.56" width="1.8" height="1.8"/><rect x="258.27" y="406.69" width="1.8" height="1.8"/><rect x="263.24" y="402.66" width="1.8" height="1.8"/><rect x="268.15" y="398.47" width="1.8" height="1.8"/><rect x="272.96" y="394.14" width="1.8" height="1.8"/><rect x="277.67" y="389.67" width="1.8" height="1.8"/><rect x="282.3" y="385.09" width="1.8" height="1.8"/><rect x="286.86" y="380.4" width="1.8" height="1.8"/><rect x="291.35" y="375.61" width="1.8" height="1.8"/><rect x="295.8" y="370.71" width="1.8" height="1.8"/><rect x="300.15" y="365.77" width="1.8" height="1.8"/><rect x="304.46" y="360.73" width="1.8" height="1.8"/><rect x="308.72" y="355.61" width="1.8" height="1.8"/><rect x="312.92" y="350.44" width="1.8" height="1.8"/><rect x="317.04" y="345.24" width="1.8" height="1.8"/><rect x="321.15" y="339.95" width="1.8" height="1.8"/><rect x="325.2" y="334.61" width="1.8" height="1.8"/><rect x="329.22" y="329.22" width="1.8" height="1.8"/><rect x="333.18" y="323.8" width="1.8" height="1.8"/><rect x="337.1" y="318.35" width="1.8" height="1.8"/><rect x="341" y="312.85" width="1.8" height="1.8"/><rect x="344.85" y="307.32" width="1.8" height="1.8"/><rect x="348.68" y="301.76" width="1.8" height="1.8"/><rect x="352.49" y="296.15" width="1.8" height="1.8"/><rect x="356.25" y="290.55" width="1.8" height="1.8"/><rect x="360.01" y="284.88" width="1.8" height="1.8"/><rect x="363.73" y="279.22" width="1.8" height="1.8"/><rect x="367.42" y="273.54" width="1.8" height="1.8"/><rect x="371.12" y="267.81" width="1.8" height="1.8"/><rect x="374.76" y="262.1" width="1.8" height="1.8"/><rect x="378.41" y="256.34" width="1.8" height="1.8"/><rect x="382.04" y="250.58" width="1.8" height="1.8"/><rect x="385.64" y="244.82" width="1.8" height="1.8"/><rect x="389.24" y="239.03" width="1.8" height="1.8"/><rect x="392.82" y="233.23" width="1.8" height="1.8"/><rect x="396.4" y="227.41" width="1.8" height="1.8"/><rect x="399.95" y="221.59" width="1.8" height="1.8"/><rect x="403.51" y="215.75" width="1.8" height="1.8"/><rect x="407.04" y="209.92" width="1.8" height="1.8"/><rect x="410.58" y="204.07" width="1.8" height="1.8"/><rect x="414.09" y="198.24" width="1.8" height="1.8"/><rect x="417.62" y="192.36" width="1.8" height="1.8"/><rect x="421.13" y="186.49" width="1.8" height="1.8"/><rect x="424.62" y="180.65" width="1.8" height="1.8"/><rect x="428.13" y="174.76" width="1.8" height="1.8"/><rect x="431.62" y="168.9" width="1.8" height="1.8"/><rect x="435.1" y="163.03" width="1.8" height="1.8"/><rect x="438.59" y="157.15" width="1.8" height="1.8"/><rect x="442.08" y="151.26" width="1.8" height="1.8"/><rect x="445.57" y="145.37" width="1.8" height="1.8"/><rect x="449.06" y="139.47" width="1.8" height="1.8"/><rect x="452.54" y="133.57" width="1.8" height="1.8"/><rect x="456.01" y="127.7" width="1.8" height="1.8"/><rect x="459.5" y="121.8" width="1.8" height="1.8"/><rect x="462.96" y="115.93" width="1.8" height="1.8"/><rect x="466.45" y="110.03" width="1.8" height="1.8"/><rect x="469.94" y="104.13" width="1.8" height="1.8"/><rect x="473.4" y="98.27" width="1.8" height="1.8"/><rect x="476.89" y="92.37" width="1.8" height="1.8"/><rect x="480.38" y="86.48" width="1.8" height="1.8"/><rect x="483.87" y="80.59" width="1.8" height="1.8"/><rect x="487.35" y="74.7" width="1.8" height="1.8"/><rect x="490.84" y="68.82" width="1.8" height="1.8"/><rect x="494.33" y="62.95" width="1.8" height="1.8"/><rect x="497.82" y="57.09" width="1.8" height="1.8"/><rect x="501.33" y="51.19" width="1.8" height="1.8"/><rect x="504.82" y="45.34" width="1.8" height="1.8"/><rect x="508.33" y="39.46" width="1.8" height="1.8"/></g>
<rect x="53.85" y="7.9" width="455.9" height="455.4" fill="none" stroke="#000" stroke-width="1.4"/>
<path d="M69.05,463.3v-3 M69.05,7.9v3 M84.24,463.3v-3 M84.24,7.9v3 M99.44,463.3v-3 M99.44,7.9v3 M114.64,463.3v-3 M114.64,7.9v3 M129.83,463.3v-5 M129.83,7.9v5 M145.03,463.3v-3 M145.03,7.9v3 M160.23,463.3v-3 M160.23,7.9v3 M175.42,463.3v-3 M175.42,7.9v3 M190.62,463.3v-3 M190.62,7.9v3 M205.82,463.3v-5 M205.82,7.9v5 M221.01,463.3v-3 M221.01,7.9v3 M236.21,463.3v-3 M236.21,7.9v3 M251.41,463.3v-3 M251.41,7.9v3 M266.6,463.3v-3 M266.6,7.9v3 M281.8,463.3v-5 M281.8,7.9v5 M297,463.3v-3 M297,7.9v3 M312.19,463.3v-3 M312.19,7.9v3 M327.39,463.3v-3 M327.39,7.9v3 M342.59,463.3v-3 M342.59,7.9v3 M357.78,463.3v-5 M357.78,7.9v5 M372.98,463.3v-3 M372.98,7.9v3 M388.18,463.3v-3 M388.18,7.9v3 M403.37,463.3v-3 M403.37,7.9v3 M418.57,463.3v-3 M418.57,7.9v3 M433.77,463.3v-5 M433.77,7.9v5 M448.96,463.3v-3 M448.96,7.9v3 M464.16,463.3v-3 M464.16,7.9v3 M479.36,463.3v-3 M479.36,7.9v3 M494.55,463.3v-3 M494.55,7.9v3 M53.85,448.12h3 M509.75,448.12h-3 M53.85,432.94h3 M509.75,432.94h-3 M53.85,417.76h3 M509.75,417.76h-3 M53.85,402.58h3 M509.75,402.58h-3 M53.85,387.4h5 M509.75,387.4h-5 M53.85,372.22h3 M509.75,372.22h-3 M53.85,357.04h3 M509.75,357.04h-3 M53.85,341.86h3 M509.75,341.86h-3 M53.85,326.68h3 M509.75,326.68h-3 M53.85,311.5h5 M509.75,311.5h-5 M53.85,296.32h3 M509.75,296.32h-3 M53.85,281.14h3 M509.75,281.14h-3 M53.85,265.96h3 M509.75,265.96h-3 M53.85,250.78h3 M509.75,250.78h-3 M53.85,235.6h5 M509.75,235.6h-5 M53.85,220.42h3 M509.75,220.42h-3 M53.85,205.24h3 M509.75,205.24h-3 M53.85,190.06h3 M509.75,190.06h-3 M53.85,174.88h3 M509.75,174.88h-3 M53.85,159.7h5 M509.75,159.7h-5 M53.85,144.52h3 M509.75,144.52h-3 M53.85,129.34h3 M509.75,129.34h-3 M53.85,114.16h3 M509.75,114.16h-3 M53.85,98.98h3 M509.75,98.98h-3 M53.85,83.8h5 M509.75,83.8h-5 M53.85,68.62h3 M509.75,68.62h-3 M53.85,53.44h3 M509.75,53.44h-3 M53.85,38.26h3 M509.75,38.26h-3 M53.85,23.08h3 M509.75,23.08h-3" stroke="#000" stroke-width="1.3" fill="none"/>
<rect x="77.9" y="34.4" width="142.9" height="123.5" fill="#fff" stroke="#000" stroke-width="1.3"/>
<path d="M89.3,57.4H133.2" stroke="#000" stroke-width="2.8" stroke-linecap="round"/>
<g fill="#000"><rect x="88.4" y="82.4" width="1.6" height="1.6"/><rect x="94.4" y="82.4" width="1.6" height="1.6"/><rect x="100.4" y="82.4" width="1.6" height="1.6"/><rect x="106.4" y="82.4" width="1.6" height="1.6"/><rect x="112.5" y="82.4" width="1.6" height="1.6"/><rect x="118.5" y="82.4" width="1.6" height="1.6"/><rect x="124.5" y="82.4" width="1.6" height="1.6"/></g>
<path d="M88.6,109H108.3M111.5,109H130.7" stroke="#000" stroke-width="1.9"/>
<path d="M88.6,134.9H124.9" stroke="#000" stroke-width="1.9"/>
<g font-family="Liberation Sans" fill="#000" stroke="#000" stroke-width="0.3">
<text x="36.31" y="485" font-size="19.5">-</text><path transform="translate(42.8,485) scale(0.009521,-0.009521)" d="M763,0L583,0L583,1147Q518,1085 415,1024.5Q312,964 223,931L223,1105Q374,1176 486.5,1276.5Q599,1377 648,1472L763,1472Z"/><text x="53.65" y="485" font-size="19.5">5</text>
<text x="115.74" y="485" font-size="19.5">-</text><path transform="translate(122.24,485) scale(0.009521,-0.009521)" d="M763,0L583,0L583,1147Q518,1085 415,1024.5Q312,964 223,931L223,1105Q374,1176 486.5,1276.5Q599,1377 648,1472L763,1472Z"/><text x="133.08" y="485" font-size="19.5">0</text>
<text x="197.15" y="485" font-size="19.5">-5</text>
<text x="276.38" y="485" font-size="19.5">0</text>
<text x="352.36" y="485" font-size="19.5">5</text>
<path transform="translate(422.92,485) scale(0.009521,-0.009521)" d="M763,0L583,0L583,1147Q518,1085 415,1024.5Q312,964 223,931L223,1105Q374,1176 486.5,1276.5Q599,1377 648,1472L763,1472Z"/><text x="433.77" y="485" font-size="19.5">0</text>
<path transform="translate(498.91,485) scale(0.009521,-0.009521)" d="M763,0L583,0L583,1147Q518,1085 415,1024.5Q312,964 223,931L223,1105Q374,1176 486.5,1276.5Q599,1377 648,1472L763,1472Z"/><text x="509.75" y="485" font-size="19.5">5</text>
<text x="35.91" y="469.7" font-size="19.5">0</text>
<path transform="translate(35.91,393.8) scale(0.009521,-0.009521)" d="M763,0L583,0L583,1147Q518,1085 415,1024.5Q312,964 223,931L223,1105Q374,1176 486.5,1276.5Q599,1377 648,1472L763,1472Z"/>
<text x="35.91" y="317.9" font-size="19.5">2</text>
<text x="35.91" y="242" font-size="19.5">3</text>
<text x="35.91" y="166.1" font-size="19.5">4</text>
<text x="35.91" y="90.2" font-size="19.5">5</text>
<text x="35.91" y="14.3" font-size="19.5">6</text>
<text x="161.3" y="61.6" font-size="19.5">=</text>
<text x="177.5" y="61.6" font-size="19.5">0.0</text>
<text x="161.3" y="90.8" font-size="19.5">=</text>
<path transform="translate(177.5,90.8) scale(0.009521,-0.009521)" d="M763,0L583,0L583,1147Q518,1085 415,1024.5Q312,964 223,931L223,1105Q374,1176 486.5,1276.5Q599,1377 648,1472L763,1472Z"/><text x="188.34" y="90.8" font-size="19.5">.</text><path transform="translate(193.76,90.8) scale(0.009521,-0.009521)" d="M763,0L583,0L583,1147Q518,1085 415,1024.5Q312,964 223,931L223,1105Q374,1176 486.5,1276.5Q599,1377 648,1472L763,1472Z"/>
<text x="161.3" y="116.8" font-size="19.5">=</text>
<path transform="translate(177.5,116.8) scale(0.009521,-0.009521)" d="M763,0L583,0L583,1147Q518,1085 415,1024.5Q312,964 223,931L223,1105Q374,1176 486.5,1276.5Q599,1377 648,1472L763,1472Z"/><text x="188.34" y="116.8" font-size="19.5">.2</text>
<text x="161.3" y="142.7" font-size="19.5">=</text>
<path transform="translate(177.5,142.7) scale(0.009521,-0.009521)" d="M763,0L583,0L583,1147Q518,1085 415,1024.5Q312,964 223,931L223,1105Q374,1176 486.5,1276.5Q599,1377 648,1472L763,1472Z"/><text x="188.34" y="142.7" font-size="19.5">.3</text>
<text x="143.4" y="59.6" font-size="20.8" font-family="Liberation Serif">&#945;</text>
<text x="144.77" y="90.6" font-size="17.6" font-family="Liberation Sans">&#946;</text>
<text x="144.77" y="116.6" font-size="17.6" font-family="Liberation Sans">&#946;</text>
<text x="144.77" y="142.5" font-size="17.6" font-family="Liberation Sans">&#946;</text>
<text transform="translate(16.2,392.8) rotate(-90)" font-size="22.7">Relative Fixation Probability,</text>
<text transform="translate(17.2,99.7) rotate(-90)" font-size="22" font-family="Liberation Serif">&#952;</text>
<text transform="translate(18.1,88.6) rotate(-90)" font-size="17.5" font-family="Liberation Serif" font-style="italic">f</text>
<text x="261.3" y="514.8" font-size="22.7" font-style="italic">N</text>
<text x="277.3" y="523" font-size="14" font-style="italic">e</text>
<text x="285.9" y="514.8" font-size="22.7" font-style="italic">s</text>
</g>
</svg>
</body></html>
